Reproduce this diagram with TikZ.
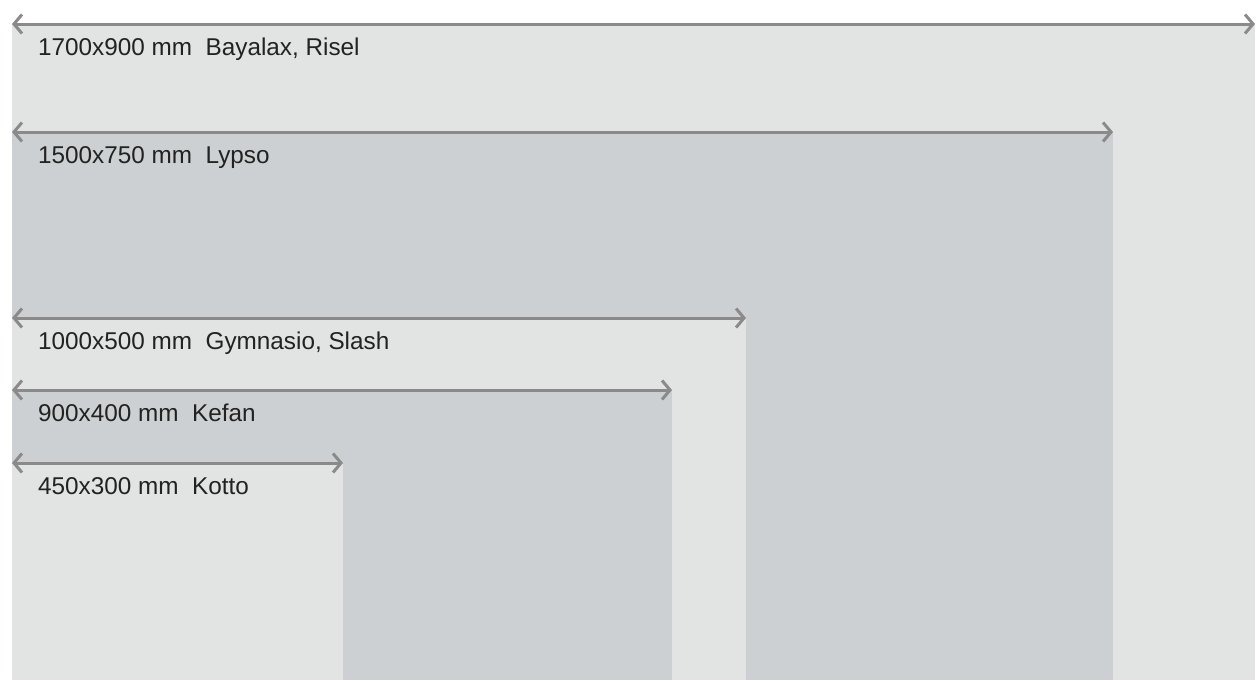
\documentclass[tikz,border=0pt]{standalone}
\usepackage{fontspec}
\setmainfont{Liberation Sans}
\usetikzlibrary{arrows.meta}
\definecolor{panelpale}{RGB}{225,228,227}
\definecolor{paneldark}{RGB}{205,208,210}
\definecolor{dimgray}{RGB}{138,138,138}
\definecolor{labelink}{RGB}{34,34,34}

\tikzset{
  panel/.style={anchor=south west, inner sep=0pt, outer sep=0pt},
  dimline/.style={<->, dimgray, line width=3pt},
  dimlabel/.style={anchor=base west, inner sep=0pt, text=labelink,
    font=\fontsize{24.3}{28}\selectfont},
}

\begin{document}
\begin{tikzpicture}[x=1pt, y=-1pt, >={Straight Barb[length=8pt, width=19pt]}]
        \useasboundingbox[fill=white] (0,0) rectangle (1257,680);
        \coordinate (base) at (12,680);

        % --- Panneaux (du plus grand au plus petit) ---
        \node[panel, fill=panelpale, minimum width=1243pt, minimum height=656pt] (p1700) at (base) {};
        \node[panel, fill=paneldark, minimum width=1101pt, minimum height=548pt] (p1500) at (base) {};
        \node[panel, fill=panelpale, minimum width=734pt, minimum height=362pt] (p1000) at (base) {};
        \node[panel, fill=paneldark, minimum width=660pt, minimum height=290pt] (p900) at (base) {};
        \node[panel, fill=panelpale, minimum width=331pt, minimum height=217pt] (p450) at (base) {};

        % --- Cotes ---
        \draw[dimline] (p1700.north west) -- (p1700.north east);
        \draw[dimline] (p1500.north west) -- (p1500.north east);
        \draw[dimline] (p1000.north west) -- (p1000.north east);
        \draw[dimline] (p900.north west) -- (p900.north east);
        \draw[dimline] (p450.north west) -- (p450.north east);

        % --- Textes sous chaque cote ---
        \node[dimlabel] (l1700) at ([shift={(26,31)}]p1700.north west) {1700x900 mm\ \ Bayalax, Risel};
        \node[dimlabel] (l1500) at ([shift={(26,31)}]p1500.north west) {1500x750 mm\ \ Lypso};
        \node[dimlabel] (l1000) at ([shift={(26,31)}]p1000.north west) {1000x500 mm\ \ Gymnasio, Slash};
        \node[dimlabel] (l900) at ([shift={(26,31)}]p900.north west) {900x400 mm\ \ Kefan};
        \node[dimlabel] (l450) at ([shift={(26,31)}]p450.north west) {450x300 mm\ \ Kotto};
\end{tikzpicture}
\end{document}
